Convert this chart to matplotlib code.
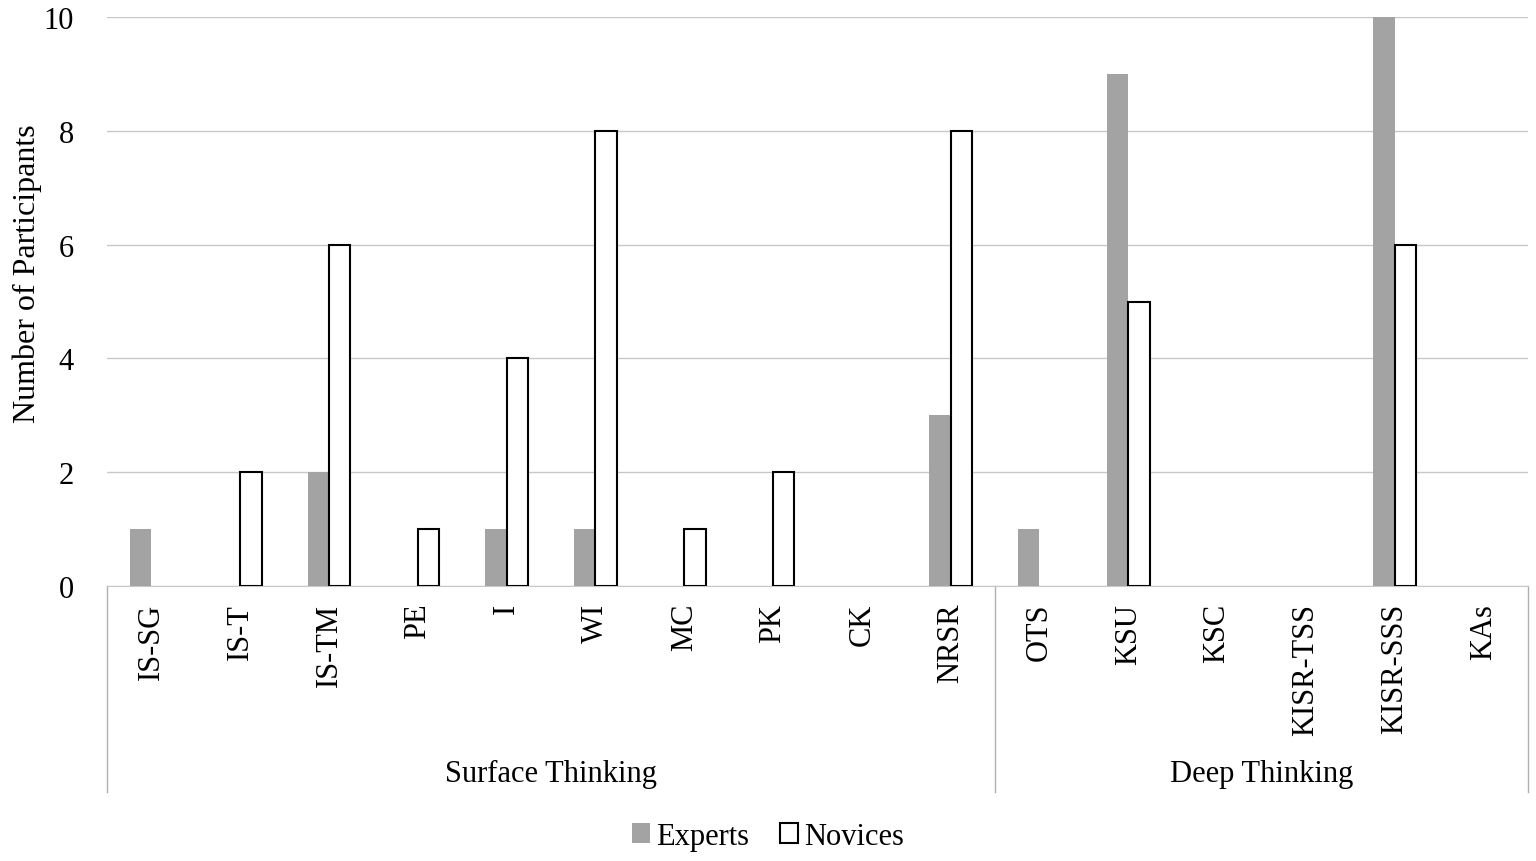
import numpy as np
import matplotlib.pyplot as plt
import matplotlib.transforms as mtransforms

categories = ['IS-SG', 'IS-T', 'IS-TM', 'PE', 'I', 'WI', 'MC', 'PK', 'CK', 'NRSR',
              'OTS', 'KSU', 'KSC', 'KISR-TSS', 'KISR-SSS', 'KAs']
experts = [1, 0, 2, 0, 1, 1, 0, 0, 0, 3, 1, 9, 0, 0, 10, 0]
novices = [0, 2, 6, 1, 4, 8, 1, 2, 0, 8, 0, 5, 0, 0, 6, 0]
groups = ['Surface Thinking', 'Deep Thinking']
group_sizes = [10, 6]

plt.rcParams['font.family'] = ['Liberation Serif', 'DejaVu Serif']

fig = plt.figure(figsize=(15.36, 8.62), dpi=100)
ax = fig.add_axes([0.0697, 0.319, 0.925, 0.660])

x = np.arange(len(categories))
w = 0.24
# empty categories get no bar at all (no outline on the baseline)
exp_h = [v if v else np.nan for v in experts]
nov_h = [v if v else np.nan for v in novices]
ax.bar(x - w / 2, exp_h, w, color='#a3a3a3', label='Experts', zorder=3)
ax.bar(x + w / 2, nov_h, w, color='white', edgecolor='black', linewidth=1.5,
       label='Novices', zorder=3)

ax.set_xlim(-0.5, len(categories) - 0.5)
ax.set_ylim(0, 10)
ax.set_yticks(range(0, 11, 2))
ax.yaxis.grid(True, color='#c8c8c8', linewidth=1)
ax.set_axisbelow(True)
for s in ['left', 'right', 'top']:
    ax.spines[s].set_visible(False)
ax.spines['bottom'].set_color('#c8c8c8')
ax.tick_params(axis='y', length=0, labelsize=22, pad=24)
ax.tick_params(axis='x', length=0, labelsize=22, pad=12)
ax.set_xticks(x)
ax.set_xticklabels(categories, rotation=90, va='top')
ax.set_ylabel('Number of Participants', fontsize=23)
ax.yaxis.set_label_coords(-0.046, 0.55)

# group separators and labels under the axis
trans = mtransforms.blended_transform_factory(ax.transData, ax.transAxes)
bounds = np.concatenate([[0], np.cumsum(group_sizes)]) - 0.5
for b in bounds:
    ax.plot([b, b], [0, -0.362], transform=trans, color='#b0b0b0', linewidth=1,
            clip_on=False)
for i, g in enumerate(groups):
    mid = (bounds[i] + bounds[i + 1]) / 2
    ax.text(mid, -0.33, g, transform=trans, ha='center', va='center', fontsize=22)

ax.legend(loc='center', bbox_to_anchor=(0.465, -0.44), ncol=2, frameon=False,
          fontsize=22, handlelength=0.6, handleheight=0.6, handletextpad=0.2,
          columnspacing=1.0)

fig.savefig('out.png', dpi=100)
